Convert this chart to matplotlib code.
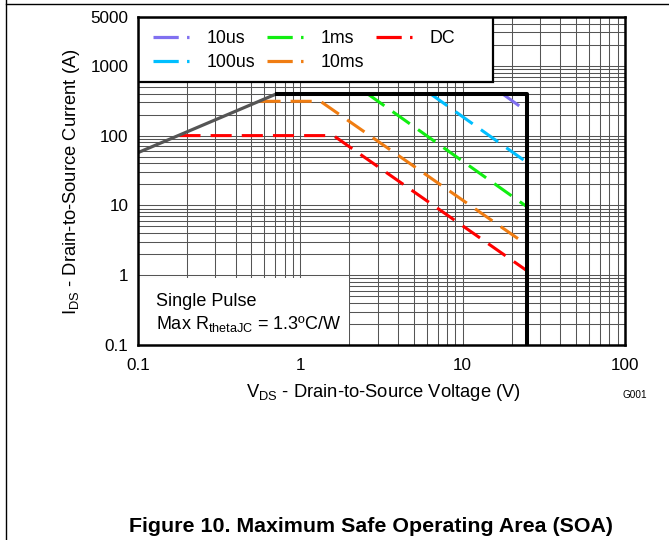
import matplotlib
matplotlib.use("Agg")
import matplotlib.pyplot as plt
from matplotlib.lines import Line2D
from matplotlib.patches import Rectangle
from matplotlib.ticker import LogLocator, NullFormatter

plt.rcParams['font.family'] = ['Liberation Sans', 'DejaVu Sans']
plt.rcParams['mathtext.fontset'] = 'custom'
plt.rcParams['mathtext.rm'] = 'Liberation Sans'

# ---- data ----
rds_v = [0.1, 0.72]
rds_i = [57, 400]
limit_v = [0.72, 25, 25]
limit_i = [400, 400, 0.1]
dc_v = [0.18, 1.6, 25]
dc_i = [100, 100, 1.15]
ms10_v = [0.56, 1.33, 25]
ms10_i = [310, 310, 2.7]
ms1_v = [2.58, 25]
ms1_i = [400, 9.5]
us100_v = [6.3, 25]
us100_i = [400, 41]
us10_v = [17.5, 25]
us10_i = [400, 220]

series_names = ['10us', '100us', '1ms', '10ms', 'DC']
series_colors = ['#8070F0', '#00BFFF', '#11EE11', '#F07D12', '#FF0000']
series_v = [us10_v, us100_v, ms1_v, ms10_v, dc_v]
series_i = [us10_i, us100_i, ms1_i, ms10_i, dc_i]

x_ticks = [0.1, 1, 10, 100]
x_ticklabels = ['0.1', '1', '10', '100']
y_ticks = [0.1, 1, 10, 100, 1000, 5000]
y_ticklabels = ['0.1', '1', '10', '100', '1000', '5000']

W, H = 669, 540
fig = plt.figure(figsize=(W / 100, H / 100), dpi=100)
ax_l, ax_r, ax_t, ax_b = 138, 625, 17, 345
ax = fig.add_axes([ax_l / W, 1 - ax_b / H, (ax_r - ax_l) / W, (ax_b - ax_t) / H])
ax.set_xscale('log')
ax.set_yscale('log')
ax.set_xlim(0.1, 100)
ax.set_ylim(0.1, 5000)

ax.set_xticks(x_ticks, labels=x_ticklabels)
ax.set_yticks(y_ticks, labels=y_ticklabels)
ax.xaxis.set_minor_locator(LogLocator(base=10, subs=range(2, 10)))
ax.yaxis.set_minor_locator(LogLocator(base=10, subs=range(2, 10)))
ax.xaxis.set_minor_formatter(NullFormatter())
ax.yaxis.set_minor_formatter(NullFormatter())
ax.tick_params(which='both', length=0, labelsize=12.3)
ax.tick_params(axis='x', pad=9)
ax.tick_params(axis='y', pad=7)
ax.grid(True, which='both', color='#555555', lw=0.75)
ax.set_axisbelow(True)
for s in ax.spines.values():
    s.set_linewidth(1.8)
    s.set_zorder(10)

dash = (6.9, 3.3)
for name, c, v, i in zip(series_names, series_colors, series_v, series_i):
    ax.plot(v, i, color=c, lw=2.2, dashes=dash, dash_capstyle='butt', zorder=4)
ax.plot(rds_v, rds_i, color='#555555', lw=2.3, solid_capstyle='butt', zorder=5)
ax.plot(limit_v, limit_i, color='black', lw=2.9, zorder=6)

# annotation box
ax.add_patch(Rectangle((0.1, 0.1), 2.0 - 0.1, 0.91 - 0.1, facecolor='white',
                       edgecolor='none', zorder=7))
ax.text((156 - ax_l) / (ax_r - ax_l), 1 - (306 - ax_t) / (ax_b - ax_t), 'Single Pulse',
        transform=ax.transAxes, fontsize=13, va='baseline', ha='left', zorder=8)
ax.text((156 - ax_l) / (ax_r - ax_l), 1 - (329 - ax_t) / (ax_b - ax_t),
        'Max R$_{\\mathregular{thetaJC}}$ = 1.3\u00baC/W',
        transform=ax.transAxes, fontsize=13, va='baseline', ha='left', zorder=8)

# legend box
ax.add_patch(Rectangle((0, 1 - (82 - ax_t) / (ax_b - ax_t)), (493 - ax_l) / (ax_r - ax_l),
                       (82 - ax_t) / (ax_b - ax_t), transform=ax.transAxes,
                       facecolor='white', edgecolor='black', lw=1.6, zorder=8))
handles = [Line2D([], [], color=c, lw=2.3, dashes=(7.9, 2.6), dash_capstyle='butt')
           for c in series_colors]
leg = ax.legend(handles, series_names, ncol=3, frameon=False, fontsize=12.8,
                loc='upper left',
                bbox_to_anchor=((153 - ax_l) / (ax_r - ax_l), 1 - (30 - ax_t) / (ax_b - ax_t)),
                borderpad=0, borderaxespad=0, handlelength=2.0, handletextpad=1.0,
                columnspacing=0.68, labelspacing=0.38)
leg.set_zorder(9)

# axis labels
fig.text(72 / W, 1 - 182 / H, 'I$_{\\mathregular{DS}}$ - Drain-to-Source Current (A)',
         rotation=90, ha='center', va='center', fontsize=13.2)
fig.text(383 / W, 1 - 397 / H,
         'V$_{\\mathregular{DS}}$ - Drain-to-Source Voltage (V)',
         ha='center', va='baseline', fontsize=13.2)
fig.text(635 / W, 1 - 395 / H, 'G001', ha='center', va='center', fontsize=7.2)
fig.text(370.5 / W, 1 - 532 / H, 'Figure 10. Maximum Safe Operating Area (SOA)',
         ha='center', va='baseline', fontsize=15.4, fontweight='bold')

# page border lines
fig.add_artist(Line2D([6 / W, 6 / W], [0, 1], transform=fig.transFigure, color='black', lw=1))
fig.add_artist(Line2D([6 / W, 1], [1 - 4 / H, 1 - 4 / H], transform=fig.transFigure,
                      color='black', lw=1))

fig.savefig('out.png', dpi=100)
